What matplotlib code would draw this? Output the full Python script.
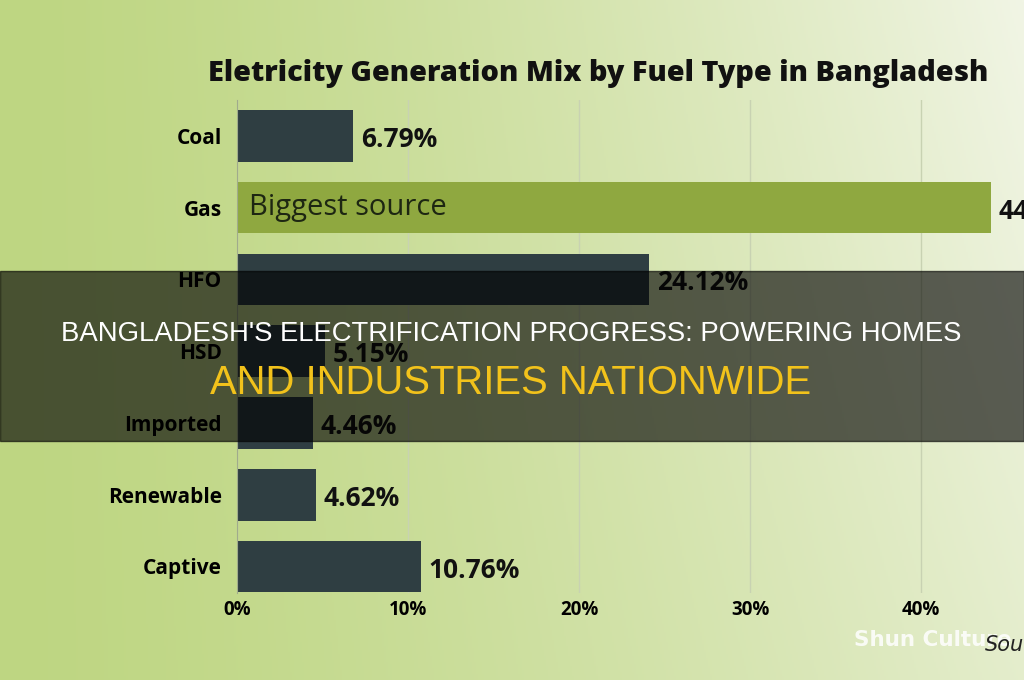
import numpy as np
import matplotlib.pyplot as plt
from matplotlib.patches import Rectangle

fuels = ["Coal", "Gas", "HFO", "HSD", "Imported", "Renewable", "Captive"]
shares = [6.79, 44.10, 24.12, 5.15, 4.46, 4.62, 10.76]
x_ticks = [0, 10, 20, 30, 40]
title = "Eletricity Generation Mix by Fuel Type in Bangladesh"
headline = ["BANGLADESH'S ELECTRIFICATION PROGRESS: POWERING HOMES",
            "AND INDUSTRIES NATIONWIDE"]

dark = "#2f3e42"
green = "#8fa840"
colors = [green if f == "Gas" else dark for f in fuels]
font = "Open Sans"

fig = plt.figure(figsize=(10.24, 6.8), dpi=100)

# greenish gradient background
bg = fig.add_axes([0, 0, 1, 1], zorder=0)
xs = np.linspace(0, 1, 512)
ys = np.linspace(0, 1, 340)
X, Y = np.meshgrid(xs, ys)
left = np.array([190, 214, 130]) / 255
right = np.array([241, 245, 229]) / 255
t = np.clip(X ** 1.4 * (1 - 0.25 * Y), 0, 1)[..., None]
img = left * (1 - t) + right * t
bg.imshow(img, aspect="auto", extent=[0, 1, 0, 1], origin="upper")
bg.axis("off")

# main chart
ax = fig.add_axes([237 / 1024, 87 / 680, 855 / 1024, 493 / 680], zorder=1)
ax.set_facecolor("none")
ypos = np.arange(len(fuels))
ax.barh(ypos, shares, height=0.72, color=colors, zorder=2)
ax.set_xlim(0, 50)
ax.set_ylim(6.37, -0.5)
ax.set_axisbelow(True)
ax.grid(axis="x", color="#c8d2b2", lw=1)
for s in ["top", "right", "bottom"]:
    ax.spines[s].set_visible(False)
ax.spines["left"].set_color("#a0ab8c")

ax.set_yticks(ypos)
ax.set_yticklabels(fuels, fontsize=15, fontweight="bold", family=font)
ax.tick_params(axis="y", length=0, pad=11)
ax.set_xticks(x_ticks)
ax.set_xticklabels([f"{v}%" for v in x_ticks], fontsize=13.5, fontweight="bold", family=font)
ax.tick_params(axis="x", length=0, pad=5)

for i, v in enumerate(shares):
    ax.text(v + 0.45, i + 0.05, f"{v:.2f}%", va="center", ha="left", fontsize=19,
            fontweight="bold", family=font, color="#111111")

ax.text(0.7, 1, "Biggest source", va="center", ha="left", fontsize=21,
        family=font, color="#1d2612", zorder=3)

fig.text(598 / 1024, 1 - 73 / 680, title, ha="center", va="center",
         fontsize=20.8, fontweight="heavy", family=font, color="#111111")

# dark headline banner
fig.patches.append(Rectangle((0, (680 - 441) / 680), 1, 170 / 680,
                             transform=fig.transFigure, color="black",
                             alpha=0.62, zorder=10))
fig.text(511 / 1024, 1 - 334 / 680, headline[0], ha="center", va="center",
         fontsize=19.8, color="white", family="Liberation Sans", zorder=11)
fig.text(511 / 1024, 1 - 383 / 680, headline[1], ha="center", va="center",
         fontsize=28.8, color="#f2c21b", family="Liberation Sans", zorder=11)

# watermark and cut-off source note
fig.text(933 / 1024, 1 - 640 / 680, "Shun Culture", ha="center", va="center",
         fontsize=15.5, fontweight="bold", color="white", alpha=0.85, zorder=12)
fig.text(985 / 1024, 1 - 645 / 680, "Source", ha="left", va="center",
         fontsize=15, style="italic", color="#222222", zorder=12)

fig.savefig("out.png", dpi=100)
